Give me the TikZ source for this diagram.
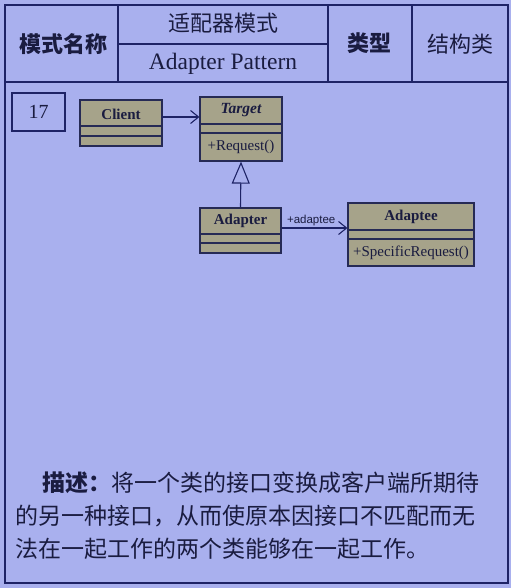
\documentclass[tikz,border=0pt]{standalone}
\usepackage{fontspec}
\setmainfont{Liberation Serif}
\newfontfamily\cjk{Noto Sans CJK SC}
\newfontfamily\sansf{Liberation Sans}
\usetikzlibrary{arrows.meta}
\definecolor{bg}{HTML}{A9B0EE}
\definecolor{ink}{HTML}{1E2366}
\definecolor{boxfill}{HTML}{A6A38A}
\definecolor{boxline}{HTML}{262A55}
\definecolor{txt}{HTML}{1A1C40}
\tikzset{
  frame/.style={draw=ink, line width=1.6pt},
  cls/.style={draw=boxline, fill=boxfill, line width=1.2pt, inner sep=0pt},
  part/.style={inner sep=0pt, text=txt, font=\fontsize{15}{17}\selectfont},
  hdr/.style={text=txt, inner sep=0pt},
  uml/.style={draw=ink, line width=1.1pt},
  openarrow/.style={-{Straight Barb[length=8pt,width=13pt,line width=1.1pt]}},
  inherit/.style={-{Triangle[open,length=22pt,width=18pt,line width=1.1pt]}}
}
\begin{document}
\begin{tikzpicture}[x=1pt,y=-1pt]
\fill[bg] (0,0) rectangle (511,588);
\useasboundingbox (0,0) rectangle (511,588);
% header table
\draw[frame] (5,5) rectangle (508,583);
\draw[frame] (5,82) -- (508,82);
\draw[frame] (118,5) -- (118,82);
\draw[frame] (328,5) -- (328,82);
\draw[frame] (412,5) -- (412,82);
\draw[frame] (118,44) -- (328,44);
\node[hdr, font=\cjk\bfseries\fontsize{22}{24}\selectfont] (h1) at (63,44) {模式名称};
\node[hdr, font=\cjk\fontsize{22}{24}\selectfont] (h2) at (223,23) {适配器模式};
\node[hdr, font=\fontsize{23.5}{25}\selectfont] (h3) at (223,64) {Adapter Pattern};
\node[hdr, font=\cjk\bfseries\fontsize{22}{24}\selectfont] (h4) at (369,43) {类型};
\node[hdr, font=\cjk\fontsize{22}{24}\selectfont] (h5) at (460,44) {结构类};
% number box
\node[draw=ink, line width=1.4pt, minimum width=53pt, minimum height=38pt, text=txt,
      font=\fontsize{20}{22}\selectfont] (num) at (38.5,112) {17};
% Client
\node[cls, minimum width=82pt, minimum height=46pt] (client) at (121,123) {};
\draw[boxline, line width=1.2pt] (80,126) -- (162,126) (80,136) -- (162,136);
\node[part, font=\bfseries\fontsize{15}{17}\selectfont, minimum width=82pt] (clientname) at (121,114) {Client};
% Target
\node[cls, minimum width=82pt, minimum height=64pt] (target) at (241,129) {};
\draw[boxline, line width=1.2pt] (200,124) -- (282,124) (200,133) -- (282,133);
\node[part, font=\bfseries\itshape\fontsize{15.5}{17}\selectfont] (targetname) at (241,110) {Target};
\node[part] (targetop) at (241,147) {+Request()};
% Adapter
\node[cls, minimum width=81pt, minimum height=45pt] (adapter) at (240.5,230.5) {};
\draw[boxline, line width=1.2pt] (200,234) -- (281,234) (200,243) -- (281,243);
\node[part, font=\bfseries\fontsize{15}{17}\selectfont] (adaptername) at (240.5,221) {Adapter};
% Adaptee
\node[cls, minimum width=126pt, minimum height=63pt] (adaptee) at (411,234.5) {};
\draw[boxline, line width=1.2pt] (348,230) -- (474,230) (348,239) -- (474,239);
\node[part, font=\bfseries\fontsize{15}{17}\selectfont] (adapteename) at (411,216.5) {Adaptee};
\node[part] (adapteeop) at (411,252.5) {+SpecificRequest()};
% connectors
\draw[uml, openarrow] ([yshift=-3pt]clientname.east) -- ([yshift=-3pt]clientname.east -| target.west);
\draw[uml, inherit] (adapter.north) -- (target.south);
\draw[uml, openarrow] ([yshift=2.5pt]adapter.east) -- ([yshift=2.5pt]adapter.east -| adaptee.west)
  node[pos=0.45, above=2pt, inner sep=0pt, text=txt, font=\sansf\fontsize{11.5}{13}\selectfont] (assoclabel) {+adaptee};
% description
\node[anchor=north west, align=left, inner sep=0pt, text=txt,
      font=\cjk\fontsize{23}{33}\selectfont] (desc) at (15,472)
  {\hspace*{27pt}{\bfseries 描述：}将一个类的接口变换成客户端所期待\\
   的另一种接口，从而使原本因接口不匹配而无\\
   法在一起工作的两个类能够在一起工作。};
\end{tikzpicture}
\end{document}
